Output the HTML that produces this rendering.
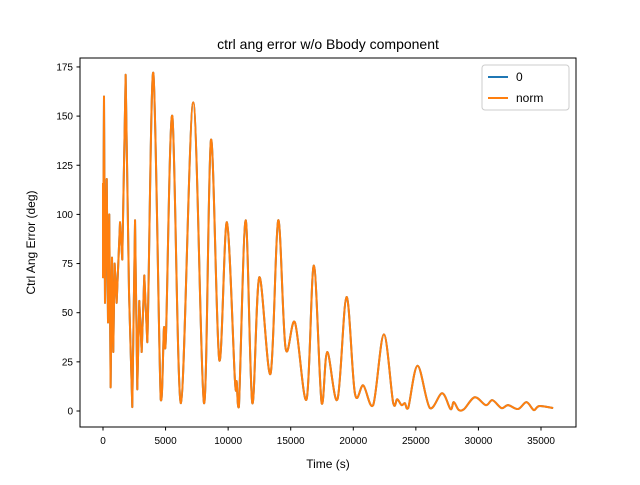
<!DOCTYPE html>
<html><head><meta charset="utf-8"><style>
body{margin:0;background:#fff}
svg text{font-family:"Liberation Sans","DejaVu Sans",sans-serif;fill:#000}
</style></head><body>
<svg width="640" height="480" viewBox="0 0 640 480" id="svg">
<rect width="640" height="480" fill="#fff"/>
<text x="328" y="49" font-size="14" text-anchor="middle">ctrl ang error w/o Bbody component</text>
<g id="plot"></g>
<g id="xt"></g>
<g id="yt"></g>
<rect x="80" y="58" width="496" height="369" fill="none" stroke="#000" stroke-width="1"/>
<text x="328" y="468" font-size="12" text-anchor="middle">Time (s)</text>
<text transform="translate(35,242.5) rotate(-90)" font-size="12" text-anchor="middle">Ctrl Ang Error (deg)</text>
<g>
<rect x="482" y="65" width="87" height="45" rx="3" fill="#fff" stroke="#ccc"/>
<line x1="488" y1="77" x2="508" y2="77" stroke="#1f77b4" stroke-width="2"/>
<text x="516" y="81" font-size="12">0</text>
<line x1="488" y1="98" x2="508" y2="98" stroke="#ff7f0e" stroke-width="2"/>
<text x="516" y="102" font-size="12">norm</text>
</g>
</svg>
<script>
const times=[0,0,80,160,300,400,500,610,720,820,930,1090,1360,1540,1810,2080,2340,2560,2740,2900,3090,3300,3540,4020,4610,4870,5030,5540,6230,7210,8070,8630,9290,9900,10540,10680,10860,11400,11930,12490,13390,14000,14590,15340,16270,16850,17470,17920,18740,19460,20130,20800,21590,22440,23190,23510,23860,24120,24390,25140,26120,27100,27770,28030,28430,28860,29710,30590,31120,31840,32370,33170,33840,34420,34850,35970];
const errorNorm=[116,68,160,55,118,45,100,12,78,30,75,55,96,77,171,60,2,97,11,56,30,69,35,172,6,42,38,150,4,157,4,138,26,96,16,15,2,97,4,68,19,97,32,45,6,74,4,30,6,58,9,13,3,39,4,6,3,4,1.5,23,1.5,9,1,4.5,0.5,1,7,3,5.5,1.5,3,1,4.5,0.5,2.5,1.5];
const error0=errorNorm.slice();
const xTicks=[0,5000,10000,15000,20000,25000,30000,35000];
const yTicks=[0,25,50,75,100,125,150,175];
const NS='http://www.w3.org/2000/svg';
const xs=t=>103+t*438/35000;
const ys=v=>411-v*1.966;
function pathFor(vals){
  const p=times.map((t,i)=>[xs(t),ys(vals[i])]);
  const ymax=ys(0);
  let d='M'+p[0][0].toFixed(2)+' '+p[0][1].toFixed(2);
  for(let i=0;i<p.length-1;i++){
    const p0=p[Math.max(0,i-1)],p1=p[i],p2=p[i+1],p3=p[Math.min(p.length-1,i+2)];
    const sharp=times[i+1]<3600;
    if(sharp){d+=' L'+p2[0].toFixed(2)+' '+p2[1].toFixed(2);continue;}
    const c1=[p1[0]+(p2[0]-p0[0])/6,Math.min(ymax,p1[1]+(p2[1]-p0[1])/6)];
    const c2=[p2[0]-(p3[0]-p1[0])/6,Math.min(ymax,p2[1]-(p3[1]-p1[1])/6)];
    d+=' C'+c1.map(v=>v.toFixed(2)).join(' ')+' '+c2.map(v=>v.toFixed(2)).join(' ')+' '+p2[0].toFixed(2)+' '+p2[1].toFixed(2);
  }
  return d;
}
const plot=document.getElementById('plot');
[[error0,'#1f77b4','series-0'],[errorNorm,'#ff7f0e','series-norm']].forEach(([v,c,n])=>{
  const el=document.createElementNS(NS,'path');
  el.setAttribute('d',pathFor(v));
  el.setAttribute('fill','none');el.setAttribute('stroke',c);el.setAttribute('stroke-width','2');
  el.setAttribute('stroke-linejoin','round');
  
  
  plot.appendChild(el);
});
const xt=document.getElementById('xt');
xTicks.forEach(t=>{
  const l=document.createElementNS(NS,'line');
  l.setAttribute('x1',xs(t));l.setAttribute('x2',xs(t));l.setAttribute('y1',427);l.setAttribute('y2',430.5);l.setAttribute('stroke','#000');
  
  
  xt.appendChild(l);
  const tx=document.createElementNS(NS,'text');
  tx.setAttribute('x',xs(t));tx.setAttribute('y',444);tx.setAttribute('font-size','10');tx.setAttribute('text-anchor','middle');
  tx.textContent=t;
  
  
  xt.appendChild(tx);
});
const yt=document.getElementById('yt');
yTicks.forEach(v=>{
  const l=document.createElementNS(NS,'line');
  l.setAttribute('x1',76.5);l.setAttribute('x2',80);l.setAttribute('y1',ys(v));l.setAttribute('y2',ys(v));l.setAttribute('stroke','#000');
  
  
  yt.appendChild(l);
  const tx=document.createElementNS(NS,'text');
  tx.setAttribute('x',73);tx.setAttribute('y',ys(v)+3.5);tx.setAttribute('font-size','10');tx.setAttribute('text-anchor','end');
  tx.textContent=v;
  
  
  yt.appendChild(tx);
});
</script>
</body></html>
